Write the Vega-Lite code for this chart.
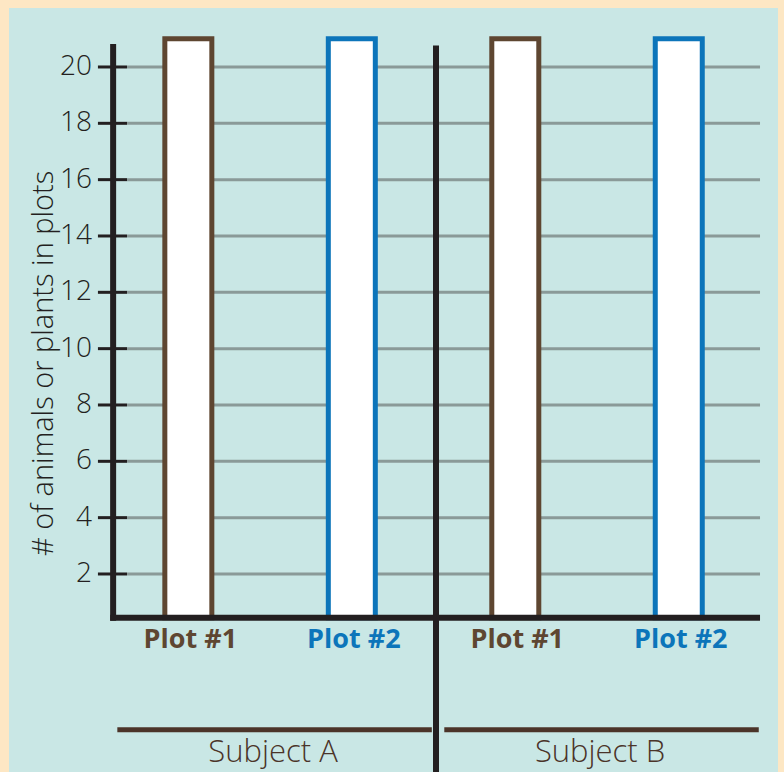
{
  "$schema": "https://vega.github.io/schema/vega-lite/v6.json",
  "width": 769,
  "height": 764,
  "autosize": {"type": "none"},
  "padding": {"left": 9, "top": 8, "right": 6, "bottom": 0},
  "background": "#fde7c4",
  "config": {"view": {"fill": "#c9e7e5", "stroke": null}, "font": "Open Sans"},
  "datasets": {
    "bars": [
      {"subject": "Subject A", "plot": "Plot #1", "pos": 1, "count": 21},
      {"subject": "Subject A", "plot": "Plot #2", "pos": 2, "count": 21},
      {"subject": "Subject B", "plot": "Plot #1", "pos": 3, "count": 21},
      {"subject": "Subject B", "plot": "Plot #2", "pos": 4, "count": 21}
    ],
    "ticks": [
      {"tick": 2}, {"tick": 4}, {"tick": 6}, {"tick": 8}, {"tick": 10},
      {"tick": 12}, {"tick": 14}, {"tick": 16}, {"tick": 18}, {"tick": 20}
    ],
    "one": [{"title": "# of animals or plants in plots"}]
  },
  "layer": [
    {
      "data": {"name": "ticks"},
      "mark": {"type": "rule", "stroke": "#8a9a98", "strokeWidth": 3},
      "encoding": {
        "x": {"datum": 0.625, "type": "quantitative", "scale": {"domain": [-0.097, 4.607], "nice": false, "zero": false, "padding": 0}, "axis": null},
        "x2": {"datum": 4.497},
        "y": {"field": "tick", "type": "quantitative", "scale": {"domain": [-5.03, 22.094], "nice": false, "zero": false, "padding": 0}, "axis": null}
      }
    },
    {
      "data": {"name": "ticks"},
      "mark": {"type": "rule", "stroke": "#231f20", "strokeWidth": 3},
      "encoding": {
        "x": {"datum": 0.447, "type": "quantitative", "axis": null},
        "x2": {"datum": 0.625},
        "y": {"field": "tick", "type": "quantitative", "axis": null}
      }
    },
    {
      "data": {"name": "ticks"},
      "mark": {"type": "text", "fill": "#231f20", "fontSize": 28, "fontWeight": 300, "align": "right", "baseline": "middle", "dx": -6},
      "encoding": {
        "x": {"datum": 0.447, "type": "quantitative", "axis": null},
        "y": {"field": "tick", "type": "quantitative", "axis": null},
        "text": {"field": "tick"}
      }
    },
    {
      "data": {"name": "one"},
      "mark": {"type": "text", "fill": "#231f20", "fontSize": 29, "fontWeight": 300, "align": "center", "baseline": "alphabetic", "angle": 270},
      "encoding": {
        "x": {"datum": 0.174, "type": "quantitative", "axis": null},
        "y": {"datum": 9.48, "type": "quantitative", "axis": null},
        "text": {"field": "title"}
      }
    },
    {
      "data": {"name": "bars"},
      "mark": {"type": "bar", "fill": "white", "strokeWidth": 5, "width": 47},
      "encoding": {
        "x": {"field": "pos", "type": "quantitative", "axis": null},
        "y": {"field": "count", "type": "quantitative", "axis": null},
        "y2": {"datum": 0.45},
        "stroke": {"field": "plot", "type": "nominal", "scale": {"domain": ["Plot #1", "Plot #2"], "range": ["#5e4631", "#0c75ba"]}, "legend": null}
      }
    },
    {
      "data": {"name": "one"},
      "mark": {"type": "rule", "stroke": "#231f20", "strokeWidth": 6},
      "encoding": {
        "x": {"datum": 0.54, "type": "quantitative", "axis": null},
        "y": {"datum": 0.341, "type": "quantitative", "axis": null},
        "y2": {"datum": 20.82}
      }
    },
    {
      "data": {"name": "one"},
      "mark": {"type": "rule", "stroke": "#231f20", "strokeWidth": 6},
      "encoding": {
        "x": {"datum": 0.522, "type": "quantitative", "axis": null},
        "x2": {"datum": 4.497},
        "y": {"datum": 0.45, "type": "quantitative", "axis": null}
      }
    },
    {
      "data": {"name": "one"},
      "mark": {"type": "rule", "stroke": "#231f20", "strokeWidth": 6},
      "encoding": {
        "x": {"datum": 2.515, "type": "quantitative", "axis": null},
        "y": {"datum": 20.76, "type": "quantitative", "axis": null},
        "y2": {"datum": -5.03}
      }
    },
    {
      "data": {"name": "bars"},
      "transform": [
        {"aggregate": [
          {"op": "min", "field": "pos", "as": "p0"},
          {"op": "max", "field": "pos", "as": "p1"},
          {"op": "mean", "field": "pos", "as": "pm"}
        ], "groupby": ["subject"]}
      ],
      "layer": [
        {
          "mark": {"type": "rule", "stroke": "#4b3429", "strokeWidth": 5, "xOffset": -71, "x2Offset": 80},
          "encoding": {
            "x": {"field": "p0", "type": "quantitative", "axis": null},
            "x2": {"field": "p1"},
            "y": {"datum": -3.527, "type": "quantitative", "axis": null}
          }
        },
        {
          "mark": {"type": "text", "fill": "#4b3429", "fontSize": 31, "fontWeight": 300, "baseline": "alphabetic", "align": "center", "xOffset": 3},
          "encoding": {
            "x": {"field": "pm", "type": "quantitative", "axis": null},
            "y": {"datum": -4.688, "type": "quantitative", "axis": null},
            "text": {"field": "subject"}
          }
        }
      ]
    },
    {
      "data": {"name": "bars"},
      "mark": {"type": "text", "fontSize": 27, "fontWeight": "bold", "baseline": "alphabetic", "align": "center", "dx": 2},
      "encoding": {
        "x": {"field": "pos", "type": "quantitative", "axis": null},
        "y": {"datum": -0.628, "type": "quantitative", "axis": null},
        "text": {"field": "plot"},
        "color": {"field": "plot", "type": "nominal", "scale": {"domain": ["Plot #1", "Plot #2"], "range": ["#5e4631", "#0c75ba"]}, "legend": null}
      }
    }
  ]
}
